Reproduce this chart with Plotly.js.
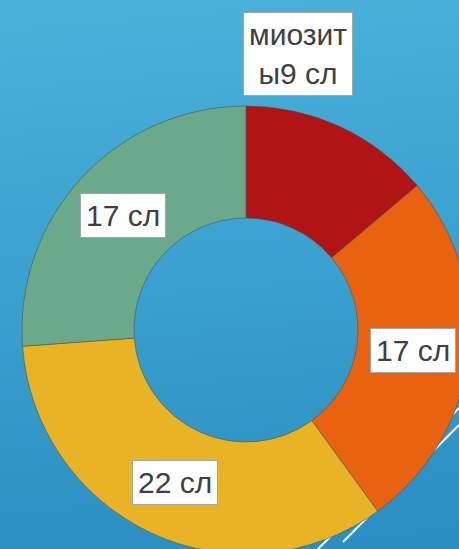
<!DOCTYPE html>
<html>
<head>
<meta charset="utf-8">
<script src="https://cdn.plot.ly/plotly-3.0.1.min.js"></script>
<style>
  html, body { margin: 0; padding: 0; width: 459px; height: 549px; overflow: hidden;
    background: linear-gradient(175deg, #4ab2d9 0%, #3aa0cf 50%, #2b8dc0 100%); }
  #chart { position: absolute; left: 0; top: 0; width: 560px; height: 620px; }
</style>
</head>
<body>
<div id="chart"></div>
<script>
// Data
const categories = ["миозиты", "B", "C", "D"];
const values = [9, 17, 22, 17];
const labelTexts = ["миозит<br>ы9 сл", "17 сл", "22 сл", "17 сл"];
const colors = ["#b01414", "#e8620f", "#e8b426", "#6aa98a"];

// Layout geometry
const W = 560, H = 620;
const cx = 246, cy = 330, R = 224, holeFrac = 0.5;

const trace = {
  type: "pie",
  labels: categories,
  values: values,
  sort: false,
  direction: "clockwise",
  rotation: 0,
  hole: holeFrac,
  textinfo: "none",
  hoverinfo: "none",
  showlegend: false,
  marker: { colors: colors, line: { color: "rgba(70,80,90,0.55)", width: 1 } },
  domain: { x: [(cx - R) / W, (cx + R) / W], y: [(H - (cy + R)) / H, (H - (cy - R)) / H] }
};

// label positions from slice mid-angles
const total = values.reduce((a, b) => a + b, 0);
let cum = 0;
const rLab = R * (1 + holeFrac) / 2;
const annotations = values.map((v, i) => {
  const mid = (cum + v / 2) / total * 2 * Math.PI;
  cum += v;
  let px = cx + rLab * Math.sin(mid);
  let py = cy - rLab * Math.cos(mid);
  if (i === 0) { px = 298; py = 54; } // first label moved outside the ring
  return {
    x: px / W, y: 1 - py / H, xref: "paper", yref: "paper",
    xanchor: "center", yanchor: "middle", showarrow: false,
    text: labelTexts[i],
    font: { family: "Liberation Sans, Arial, sans-serif", size: 30, color: "#404040" },
    bgcolor: "#ffffff", bordercolor: "#a6a6a6", borderwidth: 1, borderpad: 5
  };
});

const shapes = [
  { type: "line", xref: "paper", yref: "paper", layer: "below",
    x0: 459 / W, y0: 1 - 408 / H, x1: 317 / W, y1: 1 - 550 / H,
    line: { color: "#ffffff", width: 2 } },
  { type: "line", xref: "paper", yref: "paper", layer: "below",
    x0: 459 / W, y0: 1 - 425 / H, x1: 343 / W, y1: 1 - 542 / H,
    line: { color: "#ffffff", width: 2 } }
];

const layout = {
  width: W, height: H,
  margin: { l: 0, r: 0, t: 0, b: 0 },
  paper_bgcolor: "rgba(0,0,0,0)",
  plot_bgcolor: "rgba(0,0,0,0)",
  annotations: annotations,
  shapes: shapes
};

Plotly.newPlot("chart", [trace], layout, { displayModeBar: false, staticPlot: true });
</script>
</body>
</html>
